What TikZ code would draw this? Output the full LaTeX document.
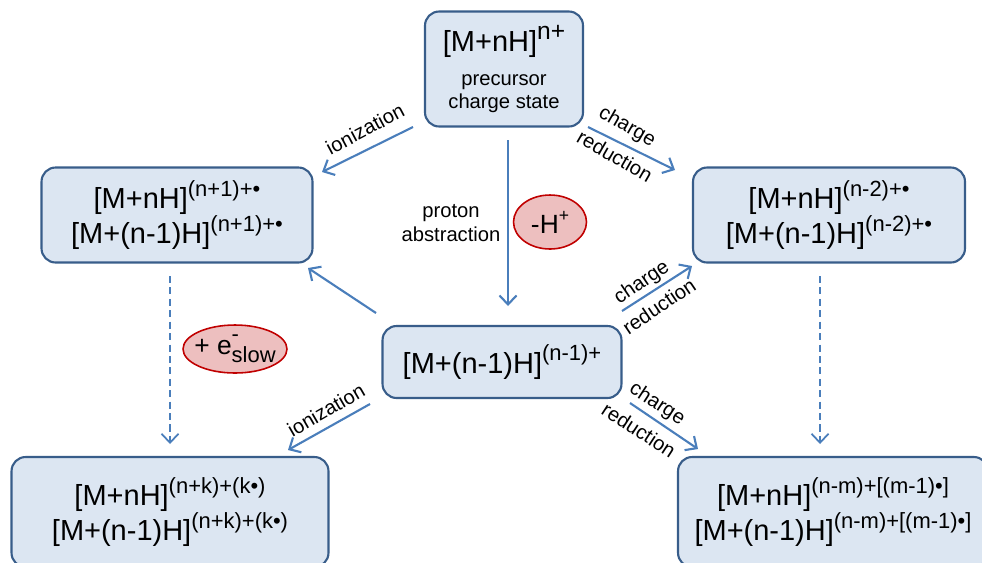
\documentclass[tikz,border=0pt]{standalone}
\usepackage{fontspec}
\setmainfont{Liberation Sans}
\usetikzlibrary{arrows.meta,shapes.geometric}
\definecolor{boxblue}{HTML}{385D8A}
\definecolor{boxfill}{HTML}{DCE6F2}
\definecolor{arrowblue}{HTML}{4A7EBB}
\definecolor{tagred}{HTML}{C00000}
\definecolor{tagfill}{HTML}{EDBFBF}
\newcommand{\ionchg}[1]{\raisebox{0.42em}{\fontsize{12.5}{14}\selectfont #1}}
\tikzset{
  ionbox/.style={
    rounded corners=8pt,
    draw=boxblue,
    fill=boxfill,
    line width=1.2pt,
    align=center,
    inner sep=0pt,
    font=\fontsize{16.5}{20}\selectfont
  },
  tagellipse/.style={
    ellipse,
    draw=tagred,
    fill=tagfill,
    line width=0.9pt,
    inner sep=0pt,
    font=\fontsize{15}{18}\selectfont
  },
  flowarrow/.style={
    -{Straight Barb[length=1.8mm,width=3.4mm]},
    line width=1.2pt,
    draw=arrowblue
  },
  dasharrow/.style={
    flowarrow,
    line width=1pt,
    dash pattern=on 4pt off 2.5pt
  },
  steplabel/.style={
    font=\fontsize{11.5}{13.5}\selectfont,
    inner sep=1pt,
    align=center
  }
}
\begin{document}
\begin{tikzpicture}[x=0.02cm, y=-0.02cm]
\useasboundingbox (0,0) rectangle (982,562);
\clip (0,0) rectangle (982,562);
\node[ionbox, minimum width=3.16cm, minimum height=2.3cm] (prec) at (504,69)
  {[M+nH]\raisebox{0.42em}{\fontsize{14}{16}\selectfont n+}\\[-1pt]{\fontsize{11.5}{13.5}\selectfont precursor}\\[-7pt]{\fontsize{11.5}{13.5}\selectfont charge state}};
\node[ionbox, minimum width=5.42cm, minimum height=1.9cm] (ionup) at (177,215)
  {[M+nH]\ionchg{(n+1)+•}\\{}[M+(n-1)H]\ionchg{(n+1)+•}};
\node[ionbox, minimum width=5.44cm, minimum height=1.9cm] (redup) at (829,215)
  {[M+nH]\ionchg{(n-2)+•}\\{}[M+(n-1)H]\ionchg{(n-2)+•}};
\node[ionbox, minimum width=4.78cm, minimum height=1.44cm] (abst) at (502,362)
  {[M+(n-1)H]\ionchg{(n-1)+}};
\node[ionbox, minimum width=6.34cm, minimum height=2.2cm] (iondown) at (170,512)
  {[M+nH]\ionchg{(n+k)+(k•)}\\{}[M+(n-1)H]\ionchg{(n+k)+(k•)}};
\node[ionbox, minimum width=6.2cm, minimum height=2.2cm] (reddown) at (833,512)
  {[M+nH]\ionchg{(n-m)+[(m-1)•]}\\{}[M+(n-1)H]\ionchg{(n-m)+[(m-1)•]}};
\node[tagellipse, minimum width=1.46cm, minimum height=1.08cm] (hloss) at (550,222)
  {-H\raisebox{0.45em}{\fontsize{10}{12}\selectfont +}};
\node[tagellipse, inner xsep=-4pt, minimum width=2.08cm, minimum height=0.96cm] (eslow) at (235,349)
  {+ e\rlap{\raisebox{0.5em}{\fontsize{12.5}{14}\selectfont -}}\raisebox{-0.3em}{\fontsize{12.5}{14}\selectfont slow}};
\coordinate (a1) at (413,127);
\coordinate (b1) at (322,172);
\coordinate (a2) at (588,127);
\coordinate (b2) at (675,170);
\coordinate (a3) at (508,140);
\coordinate (b3) at (508,306);
\coordinate (a4) at (376,313);
\coordinate (b4) at (308,268);
\coordinate (a5) at (622,311);
\coordinate (b5) at (692,266);
\coordinate (a6) at (370,404);
\coordinate (b6) at (288,450);
\coordinate (a7) at (630,403);
\coordinate (b7) at (698,449);
\coordinate (a8) at (170,276);
\coordinate (b8) at (170,444);
\coordinate (a9) at (820,276);
\coordinate (b9) at (820,444);
\draw[flowarrow] (a1) -- (b1);
\draw[flowarrow] (a2) -- (b2);
\draw[flowarrow] (a3) -- (b3);
\draw[flowarrow] (a4) -- (b4);
\draw[flowarrow] (a5) -- (b5);
\draw[flowarrow] (a6) -- (b6);
\draw[flowarrow] (a7) -- (b7);
\draw[dasharrow] (a8) -- (b8);
\draw[dasharrow] (a9) -- (b9);
\node[steplabel, rotate=28] (ionlbl1) at (365,129) {ionization};
\node[steplabel, rotate=-30] (chglbl1) at (627,127) {charge};
\node[steplabel, rotate=-30] (redlbl1) at (615,156) {reduction};
\node[steplabel] (protlbl) at (451,223) {proton\\abstraction};
\node[steplabel, rotate=34] (chglbl2) at (642,283) {charge};
\node[steplabel, rotate=34] (redlbl2) at (659,306) {reduction};
\node[steplabel, rotate=30] (ionlbl2) at (326,410) {ionization};
\node[steplabel, rotate=-33] (chglbl3) at (657,404) {charge};
\node[steplabel, rotate=-33] (redlbl3) at (639,430) {reduction};
\end{tikzpicture}
\end{document}
